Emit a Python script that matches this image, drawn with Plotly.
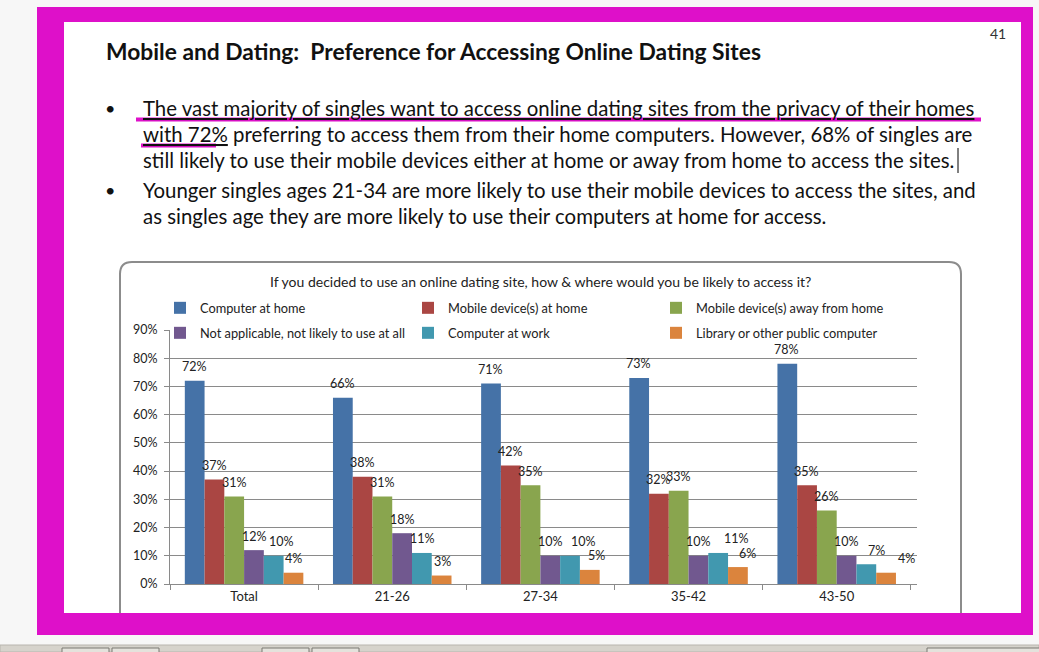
import plotly.graph_objects as go

W, H = 1039, 652


def X(px):
    return px / W


def Y(py):
    return 1 - py / H


# -------------------------------------------------
# DATA
# -------------------------------------------------
groups = ["Total", "21-26", "27-34", "35-42", "43-50"]

series_names = [
    "Computer at home",
    "Mobile device(s) at home",
    "Mobile device(s) away from home",
    "Not applicable, not likely to use at all",
    "Computer at work",
    "Library or other public computer",
]
computer_home = [72, 66, 71, 73, 78]
mobile_home = [37, 38, 42, 32, 35]
mobile_away = [31, 31, 35, 33, 26]
not_applicable = [12, 18, 10, 10, 10]
computer_work = [10, 11, 10, 11, 7]
library = [4, 3, 5, 6, 4]

series_values = [computer_home, mobile_home, mobile_away,
                 not_applicable, computer_work, library]
colors = ["#4572A7", "#AA4643", "#89A54E", "#71588F", "#4198AF", "#DB843D"]

heading = "Mobile and Dating:  Preference for Accessing Online Dating Sites"
bullet_lines = [
    "<u>The vast majority of singles want to access online dating sites from the privacy of their homes</u>",
    "<u>with 72%</u> preferring to access them from their home computers. However, 68% of singles are",
    "still likely to use their mobile devices either at home or away from home to access the sites.",
    "Younger singles ages 21-34 are more likely to use their mobile devices to access the sites, and",
    "as singles age they are more likely to use their computers at home for access.",
]
line_y = [108, 134, 160, 190, 216]
chart_title = "If you decided to use an online dating site, how & where would you be likely to access it?"

FONT = "Lato"
MAGENTA = "#DE10C9"
GRID = "#8a8a8a"

# label nudges (px to the right) as the labels were moved in the original chart
label_nudge = {4: [8, 0, 13, 18, 10], 5: [0, 0, 6, 9, 20]}

# plot area in px
PX0, PX1, PY0, PY1 = 170, 917, 584, 330
BARGAP = 0.2
bar_px = (PX1 - PX0) / len(groups) * (1 - BARGAP) / len(series_names)

# -------------------------------------------------
# BARS
# -------------------------------------------------
fig = go.Figure()
label_annotations = []
for i, (name, vals, col) in enumerate(zip(series_names, series_values, colors)):
    fig.add_trace(go.Bar(
        x=groups,
        y=vals,
        name=name,
        marker=dict(color=col, line=dict(width=0)),
        legend="legend" if i < 3 else "legend2",
        hovertemplate="%{x}<br>" + name + ": %{y}%<extra></extra>",
    ))
    nudge = label_nudge.get(i, [0] * len(groups))
    for j, v in enumerate(vals):
        label_annotations.append(dict(
            x=groups[j], y=v, xref="x", yref="y", text=f"{v}%",
            xshift=(i - 2.5) * bar_px + nudge[j], yshift=14,
            xanchor="center", yanchor="middle", showarrow=False,
            font=dict(family=FONT, size=12.5, color="#222222"),
        ))

# -------------------------------------------------
# SHAPES (page, frame, chart box)
# -------------------------------------------------
shapes = [
    # magenta frame
    dict(type="rect", x0=X(37), x1=X(1033), y0=Y(7), y1=Y(635),
         fillcolor=MAGENTA, line=dict(width=0)),
    # slide
    dict(type="rect", x0=X(64), x1=X(1021), y0=Y(22), y1=Y(613),
         fillcolor="white", line=dict(width=0)),
    # toolbar at the bottom
    dict(type="rect", x0=0, x1=1, y0=0, y1=Y(645),
         fillcolor="#d6d3cc", line=dict(color="#b8b5ae", width=1)),
]
for bx in [62, 112, 262, 312, 927]:
    shapes.append(dict(type="rect", x0=X(bx), x1=X(bx + 47 if bx < 900 else 1045),
                       y0=Y(653), y1=Y(648), fillcolor="#e4e2dc",
                       line=dict(color="#7a7873", width=1)))

# rounded chart box (bottom hidden under the frame)
r = 12
x0, x1, yt, yb = 120, 961, 262, 613
path = (f"M {X(x0)},{Y(yb)} L {X(x0)},{Y(yt + r)} "
        f"Q {X(x0)},{Y(yt)} {X(x0 + r)},{Y(yt)} "
        f"L {X(x1 - r)},{Y(yt)} Q {X(x1)},{Y(yt)} {X(x1)},{Y(yt + r)} "
        f"L {X(x1)},{Y(yb)}")
shapes.append(dict(type="path", path=path, line=dict(color="#8c8c8c", width=2)))

# magenta underlines and text cursor (above)
shapes += [
    dict(type="line", x0=X(136), x1=X(981), y0=Y(119.5), y1=Y(119.5),
         line=dict(color=MAGENTA, width=4), layer="above"),
    dict(type="line", x0=X(141), x1=X(216), y0=Y(145.5), y1=Y(145.5),
         line=dict(color=MAGENTA, width=4), layer="above"),
    dict(type="line", x0=X(958), x1=X(958), y0=Y(148), y1=Y(173),
         line=dict(color="#000000", width=1), layer="above"),
]
for s in shapes:
    s.setdefault("xref", "paper")
    s.setdefault("yref", "paper")
    s.setdefault("layer", "below")

# -------------------------------------------------
# TEXT
# -------------------------------------------------
annotations = [
    dict(text=heading, x=X(104), y=Y(51),
         font=dict(family=FONT, size=22.8, color="#111111", weight="bold")),
    dict(text="41", x=X(988), y=Y(33),
         font=dict(family=FONT, size=14, color="#333333")),
    dict(text=chart_title, x=X(540), y=Y(281), xanchor="center",
         font=dict(family=FONT, size=14, color="#222222")),
]
for ly, txt in zip(line_y, bullet_lines):
    annotations.append(dict(text=txt, x=X(141), y=Y(ly),
                            font=dict(family=FONT, size=20.4, color="#111111")))
for ly in [line_y[0], line_y[3]]:
    annotations.append(dict(text="•", x=X(103), y=Y(ly),
                            font=dict(family=FONT, size=18, color="#111111")))
for a in annotations:
    a.setdefault("xref", "paper")
    a.setdefault("yref", "paper")
    a.setdefault("xanchor", "left")
    a.setdefault("yanchor", "middle")
    a.setdefault("showarrow", False)
annotations += label_annotations

legend_common = dict(
    orientation="h", xanchor="left", yanchor="middle",
    entrywidth=203, entrywidthmode="pixels",
    bgcolor="rgba(0,0,0,0)", borderwidth=0,
    font=dict(family=FONT, size=12.8, color="#222222"),
    traceorder="normal",
)

fig.update_layout(
    width=W, height=H,
    margin=dict(l=0, r=0, t=0, b=0, pad=0, autoexpand=False),
    paper_bgcolor="#f7f7f7",
    plot_bgcolor="rgba(0,0,0,0)",
    barmode="group", bargap=BARGAP, bargroupgap=0,
    font=dict(family=FONT, color="#222222"),
    showlegend=True,
    legend=dict(x=X(160), y=Y(308), **legend_common),
    legend2=dict(x=X(160), y=Y(333), **legend_common),
    xaxis=dict(domain=[X(PX0), X(PX1)], type="category",
               showline=True, linecolor=GRID, linewidth=1,
               ticks="outside", tickson="boundaries", ticklen=5, tickcolor=GRID,
               showgrid=False, tickfont=dict(family=FONT, size=13, color="#222222"),
               fixedrange=True),
    yaxis=dict(domain=[Y(PY0), Y(PY1)], range=[0, 90], dtick=10, ticksuffix="%",
               showline=True, linecolor=GRID, linewidth=1,
               ticks="outside", ticklen=5, tickcolor=GRID,
               showgrid=True, gridcolor=GRID, gridwidth=1, zeroline=False,
               ticklabelstandoff=4,
               tickfont=dict(family=FONT, size=12.5, color="#222222"),
               fixedrange=True),
    shapes=shapes,
    annotations=annotations,
)

fig.write_html("out.html", config={"displayModeBar": False},
               post_script="document.body.style.margin='0';document.body.style.overflow='hidden';")
